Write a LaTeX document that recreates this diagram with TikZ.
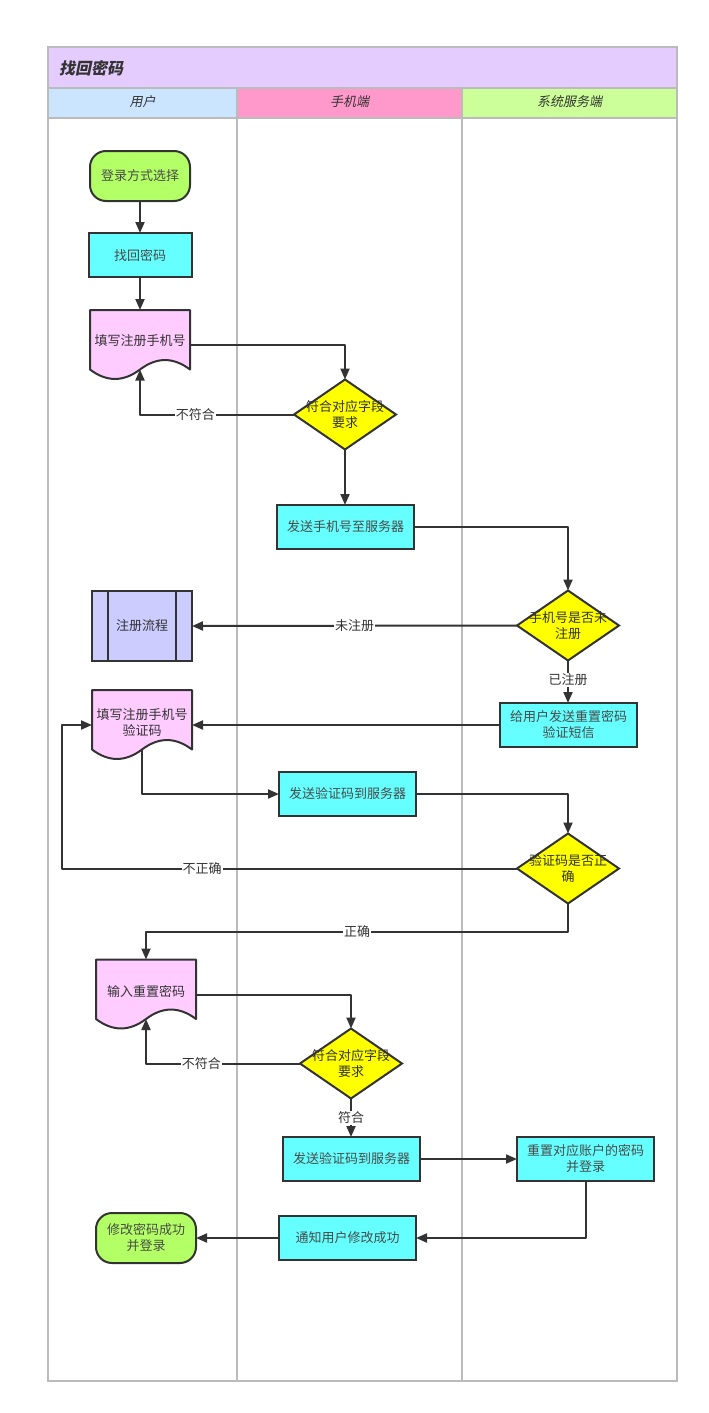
\documentclass[tikz,border=0pt]{standalone}
\usepackage{fontspec}
\setmainfont{Noto Sans CJK SC}
\newfontfamily\cjkit{Noto Sans CJK SC}[FakeSlant=0.2]
\usetikzlibrary{shapes.geometric,arrows.meta}
\definecolor{framec}{HTML}{BBBBBB}
\definecolor{titlec}{HTML}{E5CCFF}
\definecolor{userc}{HTML}{CCE5FF}
\definecolor{phonec}{HTML}{FF99CC}
\definecolor{serverc}{HTML}{CCFF99}
\definecolor{greenc}{HTML}{B3FF66}
\definecolor{cyanc}{HTML}{66FFFF}
\definecolor{pinkc}{HTML}{FFCCFF}
\definecolor{yellowc}{HTML}{FFFF00}
\definecolor{purplec}{HTML}{CCCCFF}
\definecolor{linec}{HTML}{333333}
\definecolor{textc}{HTML}{333333}
\definecolor{boxtextc}{HTML}{4A4A4A}
\newcommand\docshape[2]{\begin{scope}[shift={(#1,#2)}]
  \filldraw[draw=linec,fill=pinkc,line width=2pt,line join=round]
    (0,0) -- (100,0) -- (100,59.5)
    .. controls (83.33,46.9) and (66.67,46.9) .. (50,59.5)
    .. controls (33.33,72.1) and (16.67,72.1) .. (0,59.5) -- cycle;
\end{scope}}
\begin{document}
\begin{tikzpicture}[x=1pt,y=-1pt,
  txt/.style={font=\fontsize{13}{16}\selectfont, align=center, inner sep=0pt},
  base/.style={draw=linec, line width=2pt, txt, text=boxtextc, outer sep=0pt},
  procbox/.style={base, rectangle, fill=cyanc, minimum width=137, minimum height=44},
  terminal/.style={base, rectangle, rounded corners=16pt, fill=greenc, minimum width=100, minimum height=50},
  decision/.style={base, diamond, fill=yellowc, minimum width=102, minimum height=70},
  docnode/.style={rectangle, minimum width=100, minimum height=70, inner sep=0pt, outer sep=0pt},
  dtext/.style={txt, text=textc},
  conn/.style={draw=linec, line width=2pt, line join=round, -{Triangle[length=11pt,width=9pt]}},
  lbl/.style={txt, text=textc, fill=white, inner sep=1pt},
  lane/.style={draw=framec, line width=1.6pt},
  head/.style={font=\cjkit\fontsize{13}{15}\selectfont, text=textc, inner sep=0pt}
]
\useasboundingbox (0,0) rectangle (709,1413);
\fill[white] (0,0) rectangle (709,1413);
% pool
\fill[titlec] (48,47) rectangle (677,88);
\fill[userc] (48,88) rectangle (237,118);
\fill[phonec] (237,88) rectangle (462,118);
\fill[serverc] (462,88) rectangle (677,118);
\draw[lane] (48,47) rectangle (677,1381);
\draw[lane] (48,88) -- (677,88);
\draw[lane] (48,118) -- (677,118);
\draw[lane] (237,88) -- (237,1381);
\draw[lane] (462,88) -- (462,1381);
\node[head, font=\cjkit\bfseries\fontsize{16}{18}\selectfont, anchor=west] (title) at (59,68) {找回密码};
\node[head] (h1) at (142.5,102) {用户};
\node[head] (h2) at (349.5,102) {手机端};
\node[head] (h3) at (569.5,102) {系统服务端};

% nodes
\node[terminal] (login) at (140,176) {登录方式选择};
\node[procbox, minimum width=103] (find) at (140,255) {找回密码};
\docshape{90}{310}
\node[docnode] (docA) at (140,345) {};
\coordinate (docA-b) at (140,369.5);
\node[dtext] (docAt) at (140,341) {填写注册手机号};
\node[decision] (chk1) at (345,414.5) {};
\node[dtext] (chk1t) at (345,414.5) {符合对应字段\\要求};
\node[procbox] (send1) at (345.5,527) {发送手机号至服务器};
\node[decision] (chk2) at (568,625.5) {};
\node[dtext] (chk2t) at (568,625.5) {手机号是否未\\注册};
\node[base, rectangle, fill=purplec, text=textc, minimum width=100, minimum height=70] (reg) at (142,626) {注册流程};
\draw[draw=linec, line width=2pt] ([xshift=16]reg.north west) -- ([xshift=16]reg.south west);
\draw[draw=linec, line width=2pt] ([xshift=-16]reg.north east) -- ([xshift=-16]reg.south east);
\node[procbox] (sms) at (568.5,725) {给用户发送重置密码\\验证短信};
\docshape{92}{690}
\node[docnode] (docB) at (142,725) {};
\coordinate (docB-b) at (142,749.5);
\node[dtext] (docBt) at (142,722) {填写注册手机号\\验证码};
\node[procbox] (sendv) at (347.5,794) {发送验证码到服务器};
\node[decision] (chk3) at (568,868.5) {};
\node[dtext] (chk3t) at (568,868.5) {验证码是否正\\确};
\docshape{96}{959.5}
\node[docnode] (docC) at (146,994.5) {};
\coordinate (docC-b) at (146,1019);
\node[dtext] (docCt) at (146,991) {输入重置密码};
\node[decision] (chk4) at (351,1063.5) {};
\node[dtext] (chk4t) at (351,1063.5) {符合对应字段\\要求};
\node[procbox] (sendv2) at (351.5,1159) {发送验证码到服务器};
\node[procbox] (reset) at (585.5,1159) {重置对应账户的密码\\并登录};
\node[procbox] (notify) at (347.5,1238) {通知用户修改成功};
\node[terminal] (done) at (146,1238) {修改密码成功\\并登录};

\coordinate (loopc) at (62,725);
\coordinate (okturn) at (146,932);

% connectors
\draw[conn] (login.south) -- (find.north);
\draw[conn] (find.south) -- (docA.north);
\draw[conn] (docA.east) -| (chk1.north);
\draw[conn] (chk1.west) -| node[lbl, pos=0.32] {不符合} (docA-b);
\draw[conn] (chk1.south) -- (send1.north -| chk1.south);
\draw[conn] (send1.east) -| (chk2.north);
\draw[conn] (chk2.west) -- node[lbl, pos=0.5] {未注册} (reg.east);
\draw[conn] (chk2.south) -- node[lbl, pos=0.45] {已注册} (sms.north -| chk2.south);
\draw[conn] (sms.west) -- (docB.east);
\draw[conn] (docB-b) |- (sendv.west);
\draw[conn] (sendv.east) -| (chk3.north);
\draw[conn] (chk3.west) -| node[lbl, pos=0.346] {不正确} (loopc) -- (docB.west);
\draw[conn] (chk3.south) |- node[lbl, pos=0.75] {正确} (okturn) -- (docC.north);
\draw[conn] (docC.east) -| (chk4.north);
\draw[conn] (chk4.west) -| node[lbl, pos=0.32] {不符合} (docC-b);
\draw[conn] (chk4.south) -- node[lbl, pos=0.5] {符合} (sendv2.north -| chk4.south);
\draw[conn] (sendv2.east) -- (reset.west);
\draw[conn] (reset.south) |- (notify.east);
\draw[conn] (notify.west) -- (done.east);
\end{tikzpicture}
\end{document}
